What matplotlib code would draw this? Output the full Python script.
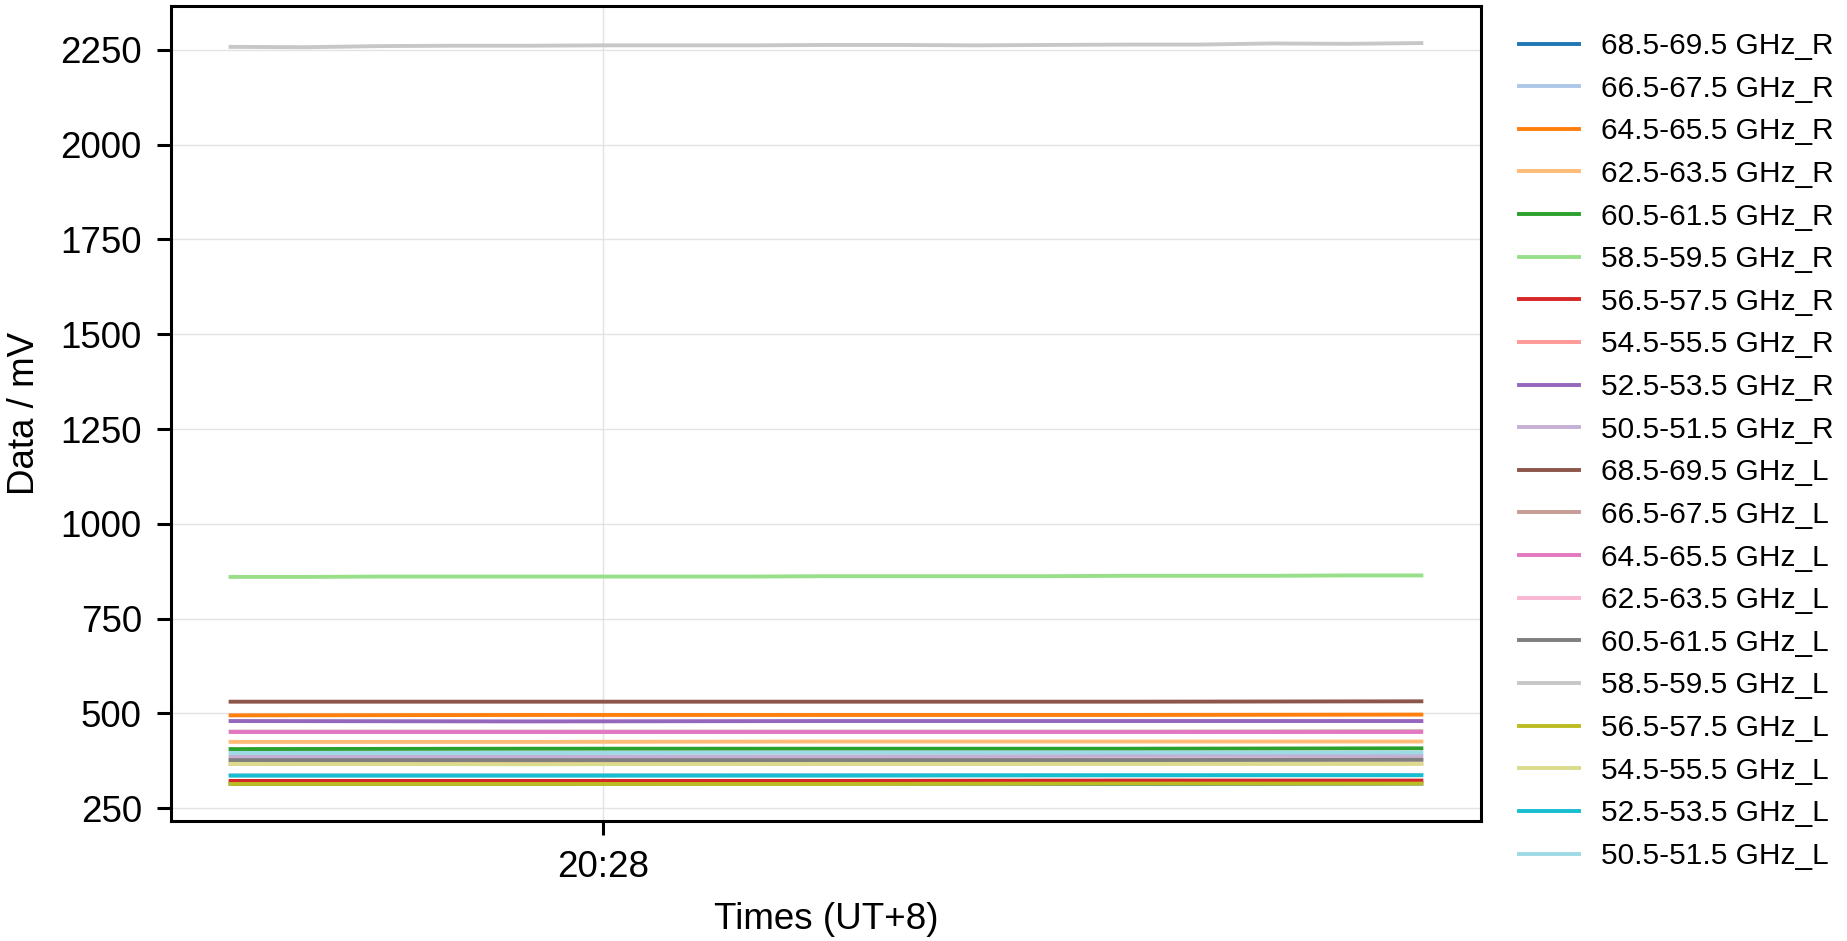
import matplotlib
matplotlib.use("Agg")
import matplotlib.pyplot as plt
import matplotlib.dates as mdates
import pandas as pd

plt.rcParams['font.family'] = ['Liberation Sans', 'DejaVu Sans']

# sample times (UT+8)
times_fine = ["20:27:35", "20:27:40", "20:27:45", "20:27:50", "20:27:55",
              "20:28:00", "20:28:05", "20:28:10", "20:28:15", "20:28:20",
              "20:28:25", "20:28:30", "20:28:35", "20:28:40", "20:28:45",
              "20:28:50", "20:28:55"]
times_coarse = ["20:27:35", "20:27:55", "20:28:15", "20:28:35", "20:28:55"]

labels = ["68.5-69.5 GHz_R", "66.5-67.5 GHz_R", "64.5-65.5 GHz_R", "62.5-63.5 GHz_R",
          "60.5-61.5 GHz_R", "58.5-59.5 GHz_R", "56.5-57.5 GHz_R", "54.5-55.5 GHz_R",
          "52.5-53.5 GHz_R", "50.5-51.5 GHz_R",
          "68.5-69.5 GHz_L", "66.5-67.5 GHz_L", "64.5-65.5 GHz_L", "62.5-63.5 GHz_L",
          "60.5-61.5 GHz_L", "58.5-59.5 GHz_L", "56.5-57.5 GHz_L", "54.5-55.5 GHz_L",
          "52.5-53.5 GHz_L", "50.5-51.5 GHz_L"]

# channel data in mV
r_685 = [314, 314, 315, 314, 315]
r_665 = [337, 337, 338, 337, 338]
r_645 = [495, 496, 496, 496, 497]
r_625 = [425, 425, 426, 426, 426]
r_605 = [406, 407, 407, 407, 408]
r_585 = [860, 860, 861, 861, 861, 861, 861, 861, 862, 862, 862, 862, 863, 863, 863, 864, 864]
r_565 = [322, 322, 322, 323, 323]
r_545 = [367, 367, 367, 368, 368]
r_525 = [480, 479, 480, 480, 480]
r_505 = [387, 387, 387, 388, 388]
l_685 = [531, 531, 531, 531, 532]
l_665 = [452, 452, 452, 452, 453]
l_645 = [452, 452, 452, 452, 452]
l_625 = [377, 377, 377, 378, 378]
l_605 = [377, 377, 377, 377, 378]
l_585 = [2258, 2257, 2260, 2261, 2261, 2262, 2262, 2262, 2263, 2263, 2262, 2263, 2264,
         2264, 2267, 2266, 2268]
l_565 = [314, 314, 314, 315, 315]
l_545 = [367, 366, 367, 367, 367]
l_525 = [336, 336, 336, 337, 337]
l_505 = [396, 396, 397, 397, 397]

series = [r_685, r_665, r_645, r_625, r_605, r_585, r_565, r_545, r_525, r_505,
          l_685, l_665, l_645, l_625, l_605, l_585, l_565, l_545, l_525, l_505]

t_fine = pd.to_datetime(["2023-06-01 " + t for t in times_fine])
t_coarse = pd.to_datetime(["2023-06-01 " + t for t in times_coarse])

colors = plt.get_cmap('tab20').colors

fig = plt.figure(figsize=(18.47, 9.41), dpi=100)
ax = fig.add_axes([0.0926, 0.1275, 0.7092, 0.8661])

for i, (lab, vals) in enumerate(zip(labels, series)):
    t = t_fine if len(vals) == len(t_fine) else t_coarse
    ax.plot(t, vals, color=colors[i], lw=2.8, label=lab)

ax.xaxis.set_major_locator(mdates.MinuteLocator())
ax.xaxis.set_major_formatter(mdates.DateFormatter('%H:%M'))
ax.set_yticks([250, 500, 750, 1000, 1250, 1500, 1750, 2000, 2250])

ax.grid(True, color='#e3e3e3', lw=1.0)
ax.set_axisbelow(True)
for sp in ax.spines.values():
    sp.set_linewidth(2.2)
ax.tick_params(labelsize=26.5, length=10, width=2.2, pad=11)

ax.set_xlabel('Times (UT+8)', fontsize=26.5, labelpad=12)
ax.set_ylabel('Data / mV', fontsize=26.5, labelpad=13)

fig.legend(loc='upper left', bbox_to_anchor=(0.8224, 0.966), frameon=False,
           fontsize=21.5, borderpad=0, borderaxespad=0, labelspacing=0.49,
           handlelength=2.0, handletextpad=0.75)

fig.savefig('out.png', dpi=100)
